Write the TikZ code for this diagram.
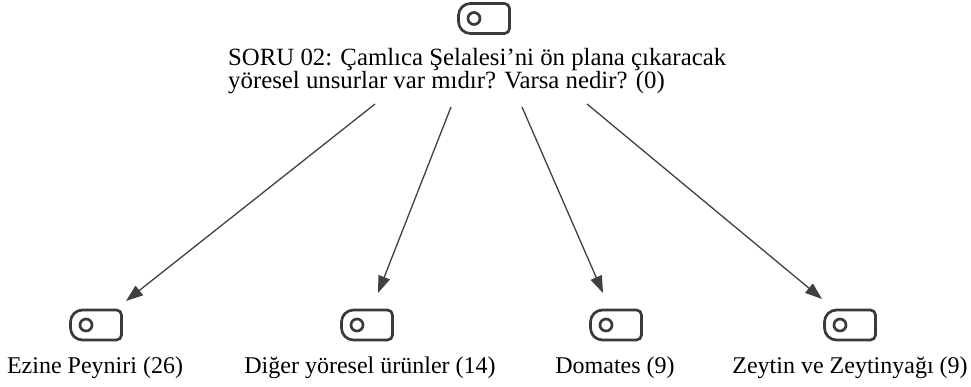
\documentclass[tikz,border=0pt]{standalone}
\usepackage{fontspec}
\setmainfont{Liberation Serif}
\usetikzlibrary{arrows.meta}

\definecolor{inkgray}{HTML}{3A3A3A}
\definecolor{linegray}{HTML}{404040}

\tikzset{
  lbl/.style={inner sep=0pt, font=\fontsize{24}{22}\selectfont, text=black},
  link/.style={draw=linegray, line width=1.3pt,
    -{Triangle[length=17pt,width=12pt]}},
  tagicon/.pic={
    \begin{scope}[y=1pt]
      \draw[inkgray, line width=2.7pt, line join=round]
        (-13.5,15) -- (20.5,15) arc[start angle=90, end angle=0, radius=5]
        -- (25.5,-10) arc[start angle=0, end angle=-90, radius=5]
        -- (-13.5,-15) arc[start angle=270, end angle=180, radius=12]
        -- (-25.5,3) arc[start angle=180, end angle=90, radius=12] -- cycle;
      \draw[inkgray, line width=2.7pt] (-10,0) circle[radius=6];
    \end{scope}
  }
}

\begin{document}
\begin{tikzpicture}[x=1pt,y=-1pt]
  \useasboundingbox (0,0) rectangle (971,387);

  % question node
  \pic at (484,18.5) {tagicon};
  \node[lbl, font=\fontsize{24.8}{22}\selectfont, anchor=base west, align=left] (q) at (228,89)
    {SORU 02: Çamlıca Şelalesi’ni ön plana çıkaracak\\
     yöresel unsurlar var mıdır? Varsa nedir? (0)};

  % answer nodes
  \pic at (96,325) {tagicon};
  \node[lbl, anchor=base] (ezine) at (95,373) {Ezine Peyniri (26)};
  \pic at (367,325) {tagicon};
  \node[lbl, anchor=base] (diger) at (370,373) {Diğer yöresel ürünler (14)};
  \pic at (616,325) {tagicon};
  \node[lbl, anchor=base] (domates) at (615,373) {Domates (9)};
  \pic at (850,325) {tagicon};
  \node[lbl, anchor=base] (zeytin) at (850,373) {Zeytin ve Zeytinyağı (9)};

  % connector ends
  \coordinate (s1) at (375,104);
  \coordinate (s2) at (451,107);
  \coordinate (s3) at (522,107);
  \coordinate (s4) at (587,104);
  \coordinate (t1) at (126,301);
  \coordinate (t2) at (378,293);
  \coordinate (t3) at (603,293);
  \coordinate (t4) at (822,299);

  \draw[link] (s1) -- (t1);
  \draw[link] (s2) -- (t2);
  \draw[link] (s3) -- (t3);
  \draw[link] (s4) -- (t4);
\end{tikzpicture}
\end{document}
